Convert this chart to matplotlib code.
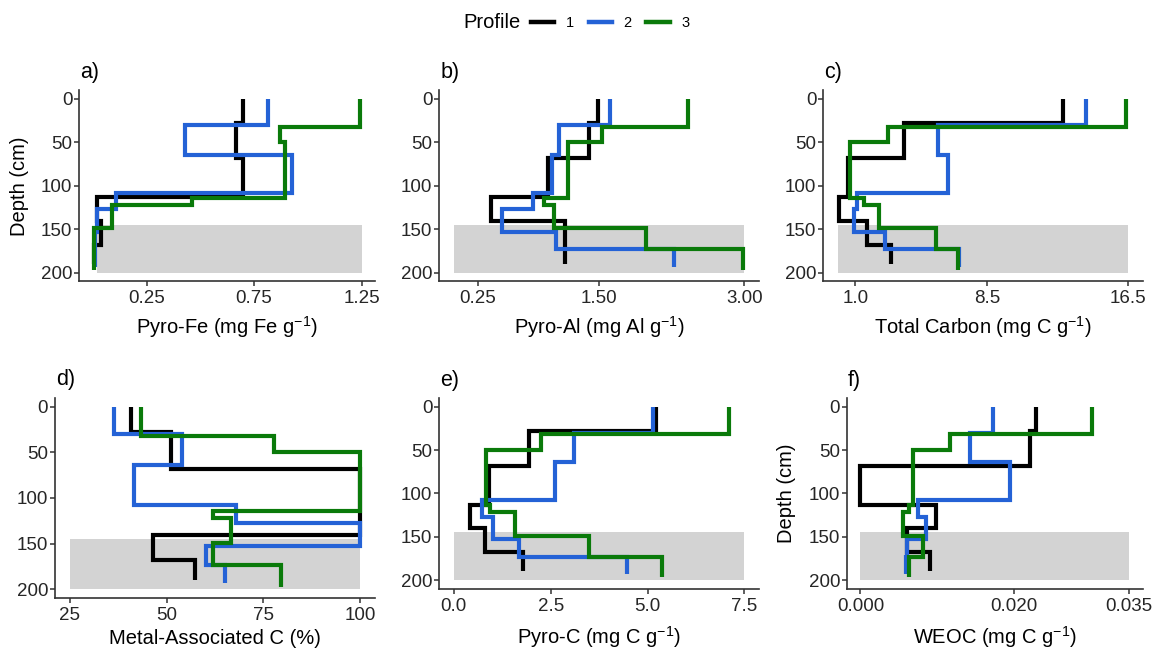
import matplotlib
matplotlib.use('Agg')
import matplotlib.pyplot as plt
from matplotlib.lines import Line2D

plt.rcParams['font.family'] = ['Liberation Sans', 'DejaVu Sans']
plt.rcParams['mathtext.fontset'] = 'custom'
plt.rcParams['mathtext.rm'] = 'Liberation Sans'
plt.rcParams['mathtext.it'] = 'Liberation Sans:italic'
plt.rcParams['mathtext.bf'] = 'Liberation Sans:bold'

# ---------------- data ----------------
profiles = ['1', '2', '3']
profile_colors = ['#000000', '#2462D6', '#0A7A0A']

# horizon boundaries (cm) per profile
depth_p1 = [0, 28, 68, 113, 140, 168, 190]
depth_p2 = [0, 30, 64, 108, 127, 153, 173, 193]
depth_p3 = [0, 32, 50, 114, 122, 149, 173, 197]

pyro_fe_p1 = [0.70, 0.667, 0.70, 0.018, 0.037, 0.008]
pyro_fe_p2 = [0.816, 0.43, 0.927, 0.106, 0.021, 0.012, 0.010]
pyro_fe_p3 = [1.245, 0.87, 0.894, 0.461, 0.088, 0.006, 0.006]

pyro_al_p1 = [1.49, 1.40, 0.97, 0.38, 1.15, 1.15]
pyro_al_p2 = [1.61, 1.09, 1.01, 0.82, 0.50, 1.05, 2.27]
pyro_al_p3 = [2.42, 1.53, 1.18, 0.93, 1.03, 1.98, 2.99]

total_c_p1 = [12.8, 3.75, 0.60, 0.05, 1.66, 3.03]
total_c_p2 = [14.1, 5.68, 6.25, 1.08, 0.90, 2.70, 6.90]
total_c_p3 = [16.4, 2.84, 0.70, 1.51, 2.33, 5.58, 6.81]

metal_c_p1 = [40.9, 51.1, 100.0, 100.0, 46.6, 57.3]
metal_c_p2 = [36.5, 54.1, 41.7, 67.9, 100.0, 60.1, 65.2]
metal_c_p3 = [43.3, 77.6, 100.0, 62.0, 66.7, 62.0, 79.6]

pyro_c_p1 = [5.22, 1.95, 0.92, 0.43, 0.80, 1.78]
pyro_c_p2 = [5.14, 3.11, 2.61, 0.73, 1.01, 1.67, 4.48]
pyro_c_p3 = [7.09, 2.25, 0.84, 0.94, 1.57, 3.48, 5.38]

weoc_p1 = [0.0228, 0.0221, 0.0, 0.0099, 0.0061, 0.0090]
weoc_p2 = [0.0172, 0.0142, 0.0195, 0.0075, 0.0086, 0.0060, 0.0059]
weoc_p3 = [0.0302, 0.0117, 0.0068, 0.0063, 0.0055, 0.0081, 0.0063]

panel_tags = ['a)', 'b)', 'c)', 'd)', 'e)', 'f)']
x_titles = ['Pyro-Fe (mg Fe g$^{-1}$)', 'Pyro-Al (mg Al g$^{-1}$)',
            'Total Carbon (mg C g$^{-1}$)', 'Metal-Associated C (%)',
            'Pyro-C (mg C g$^{-1}$)', 'WEOC (mg C g$^{-1}$)']
x_ticks = [[0.25, 0.75, 1.25], [0.25, 1.50, 3.00], [1.0, 8.5, 16.5],
           [25, 50, 75, 100], [0.0, 2.5, 5.0, 7.5], [0.000, 0.020, 0.035]]
x_tick_labels = [['0.25', '0.75', '1.25'], ['0.25', '1.50', '3.00'],
                 ['1.0', '8.5', '16.5'], ['25', '50', '75', '100'],
                 ['0.0', '2.5', '5.0', '7.5'], ['0.000', '0.020', '0.035']]
x_limits = [(0.0, 1.25), (0.0, 3.0), (0.0, 16.5), (25, 100), (0.0, 7.5), (0.0, 0.035)]
shade_lo = [0.02, 0.0, 0.0, 25, 0.0, 0.0]
depth_ticks = [0, 50, 100, 150, 200]
depth_limits = (0, 200)
subsoil = (145, 200)

depths = [depth_p1, depth_p2, depth_p3]
panel_values = [
    [pyro_fe_p1, pyro_fe_p2, pyro_fe_p3],
    [pyro_al_p1, pyro_al_p2, pyro_al_p3],
    [total_c_p1, total_c_p2, total_c_p3],
    [metal_c_p1, metal_c_p2, metal_c_p3],
    [pyro_c_p1, pyro_c_p2, pyro_c_p3],
    [weoc_p1, weoc_p2, weoc_p3],
]

# ---------------- layout (pixels) ----------------
W, H = 1156, 648
fig = plt.figure(figsize=(W / 100, H / 100), dpi=100)
# left, right, top, bottom in pixels
boxes = [
    (79.3, 375.0, 90.3, 281.4),
    (439.3, 759.0, 90.3, 281.4),
    (823.3, 1142.7, 90.3, 281.4),
    (55.0, 375.0, 397.6, 598.4),
    (439.3, 759.0, 398.0, 588.7),
    (847.0, 1142.7, 398.0, 588.7),
]
title_y_px = [327, 327, 327, 638, 637, 637]
show_depth_label = [True, False, False, False, False, True]

axis_col = '#333333'
tick_col = '#262626'

for i, (l, r, t, b) in enumerate(boxes):
    ax = fig.add_axes([l / W, (H - b) / H, (r - l) / W, (b - t) / H])
    lo, hi = x_limits[i]
    ex = 0.05 * (hi - lo)
    ax.set_xlim(lo - ex, hi + ex)
    ey = 0.05 * (depth_limits[1] - depth_limits[0])
    ax.set_ylim(depth_limits[1] + ey, depth_limits[0] - ey)

    ax.fill_betweenx(list(subsoil), shade_lo[i], hi, color='#D3D3D3', lw=0, zorder=0)

    for k in range(3):
        ax.stairs(panel_values[i][k], depths[k], orientation='horizontal',
                  baseline=None, edgecolor=profile_colors[k], linewidth=3.0,
                  joinstyle='miter', capstyle='butt', zorder=2 + k)

    for s in ['top', 'right']:
        ax.spines[s].set_visible(False)
    for s in ['left', 'bottom']:
        ax.spines[s].set_linewidth(1.2)
        ax.spines[s].set_color(axis_col)

    ax.set_xticks(x_ticks[i])
    ax.set_xticklabels(x_tick_labels[i])
    ax.set_yticks(depth_ticks)
    ax.tick_params(axis='both', direction='out', length=3.5, width=1.1,
                   color=axis_col, labelsize=13.5, labelcolor=tick_col)
    ax.tick_params(axis='x', pad=3.0)
    ax.tick_params(axis='y', pad=1.5)

    ax.set_xlabel(x_titles[i], fontsize=14.5, color='black')
    ax.xaxis.label.set_va('center')
    ax.xaxis.set_label_coords(0.5, -(title_y_px[i] - b) / (b - t))

    if show_depth_label[i]:
        ax.set_ylabel('Depth (cm)', fontsize=14.5, color='black')
        ax.yaxis.label.set_va('center')
        ax.yaxis.set_label_coords(-(l - 20) / (r - l) if i == 0 else -(l - 786) / (r - l), 0.5)

    fig.text((l + 1) / W, 1 - (t - 18) / H, panel_tags[i], fontsize=15.5,
             ha='left', va='center', color='black')

# legend
fig.text(463 / W, 1 - 23 / H, 'Profile', fontsize=14.5, ha='left', va='center')
handles = [Line2D([0], [0], color=c, lw=3.2) for c in profile_colors]
fig.legend(handles, profiles, ncol=3, loc='center left',
           bbox_to_anchor=(531 / W, 1 - 23 / H), frameon=False, fontsize=10.5,
           handlelength=1.6, handletextpad=0.8, columnspacing=1.0,
           borderpad=0, borderaxespad=0)

fig.savefig('out.png', dpi=100)
